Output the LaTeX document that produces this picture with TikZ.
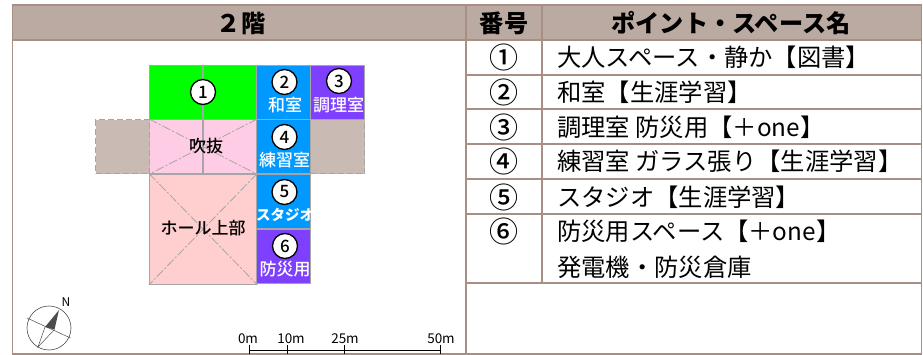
\documentclass[tikz,border=0pt]{standalone}
\usepackage{fontspec}
\setmainfont{Noto Sans CJK JP}
\newfontfamily\medfont{Noto Sans CJK JP Medium}
\usepackage{tikz}
\definecolor{headfill}{HTML}{BBAAA2}
\definecolor{tableline}{HTML}{A78F85}
\definecolor{wallgray}{HTML}{A6A6A6}
\definecolor{voidgray}{HTML}{C9BAB3}
\definecolor{roomgreen}{HTML}{00FF00}
\definecolor{roomblue}{HTML}{0099FF}
\definecolor{roompurple}{HTML}{7F3FFF}
\definecolor{voidpink}{HTML}{FFCCE5}
\definecolor{hallpink}{HTML}{FFCFCF}
\tikzset{
  room/.style={draw=wallgray, line width=1.3pt, inner sep=0pt, anchor=north west},
  numcircle/.style={circle, draw=black, line width=1.3pt, fill=white, minimum size=25pt, inner sep=0pt,
    font=\fontsize{17}{17}\medfont},
  roomlabel/.style={text=white, inner sep=0pt, font=\fontsize{17}{17}\medfont},
  headtext/.style={inner sep=0pt, font=\fontsize{24.2}{25}\selectfont\bfseries},
  celltext/.style={inner sep=0pt, font=\fontsize{24.3}{25}\selectfont},
  numtext/.style={inner sep=0pt, font=\fontsize{29}{29}\medfont},
  rowtext/.style={celltext, anchor=west},
  scaletext/.style={inner sep=0pt, font=\fontsize{13.5}{14}\selectfont},
  crossline/.style={draw=wallgray, line width=0.8pt, dash pattern=on 9pt off 2pt on 2pt off 2pt}
}
\begin{document}
\begin{tikzpicture}[x=1pt, y=-1pt]

  \useasboundingbox (0,0) rectangle (923,355);

  % Header band of the table
  \fill[headfill] (12.5,5) rectangle (921.5,40);

  % Rules of the table
  \draw[tableline, line width=1.3pt] (12.5,5) rectangle (921.5,354);
  \draw[tableline, line width=1.3pt] (12.5,40) -- (921.5,40);
  \draw[tableline, line width=1.3pt] (466,5) -- (466,354);
  \draw[tableline, line width=1.3pt] (542,5) -- (542,283);
  \draw[tableline, line width=1.3pt] (466,75) -- (921.5,75);
  \draw[tableline, line width=1.3pt] (466,109) -- (921.5,109);
  \draw[tableline, line width=1.3pt] (466,144) -- (921.5,144);
  \draw[tableline, line width=1.3pt] (466,179) -- (921.5,179);
  \draw[tableline, line width=1.3pt] (466,214) -- (921.5,214);
  \draw[tableline, line width=1.3pt] (466,283) -- (921.5,283);

  % Header texts
  \node[headtext] (floorhead) at (241,23) {２階};
  \node[headtext] (numhead) at (504,23) {番号};
  \node[headtext] (namehead) at (731,23) {ポイント・スペース名};

  % Rows of the table
  \node[numtext] (num1) at (504,57) {①};
  \node[numtext] (num2) at (504,92) {②};
  \node[numtext] (num3) at (504,127) {③};
  \node[numtext] (num4) at (504,161) {④};
  \node[numtext] (num5) at (504,197) {⑤};
  \node[numtext] (num6) at (504,231) {⑥};
  \node[rowtext] (name1) at (557,57) {大人スペース・静か【図書】};
  \node[rowtext] (name2) at (557,92) {和室【生涯学習】};
  \node[rowtext] (name3) at (557,127) {調理室 防災用【＋one】};
  \node[rowtext] (name4) at (557,161) {練習室 ガラス張り【生涯学習】};
  \node[rowtext] (name5) at (557,197) {スタジオ【生涯学習】};
  \node[rowtext] (name6) at (557,231) {防災用スペース【＋one】};
  \node[rowtext] (name6b) at (557,267) {発電機・防災倉庫};

  % Floor plan, the rooms
  \node[room, fill=roomgreen, minimum width=107pt, minimum height=54pt] (green) at (149,65) {};
  \node[room, fill=roomblue, minimum width=54pt, minimum height=54pt] (washitsu) at (256,65) {};
  \node[room, fill=roompurple, minimum width=54pt, minimum height=54pt] (kitchen) at (310,65) {};
  \node[room, fill=voidpink, minimum width=107pt, minimum height=54pt] (fukinuke) at (149,119) {};
  \node[room, fill=roomblue, minimum width=54pt, minimum height=54pt] (practice) at (256,119) {};
  \node[room, fill=hallpink, minimum width=107pt, minimum height=110pt] (hall) at (149,173.5) {};
  \node[room, fill=roomblue, minimum width=54pt, minimum height=55pt] (studio) at (256,173.5) {};
  \node[room, fill=roompurple, minimum width=54pt, minimum height=54.5pt] (bousai) at (256,228.5) {};

  % Dashed gray parts beside the void
  \node[room, dash pattern=on 6pt off 3pt, fill=voidgray, minimum width=54pt, minimum height=54pt] (sideleft) at (95,119) {};
  \node[room, dash pattern=on 6pt off 3pt, fill=voidgray, minimum width=54pt, minimum height=54pt] (sideright) at (310,119) {};

  % Crosses over the void and the hall
  \draw[crossline] (fukinuke.north west) -- (fukinuke.south east);
  \draw[crossline] (fukinuke.north east) -- (fukinuke.south west);
  \draw[crossline] (hall.north west) -- (hall.south east);
  \draw[crossline] (hall.north east) -- (hall.south west);

  % Wall through the middle of the upper rooms
  \draw[wallgray, line width=1.4pt] (green.north) -- (fukinuke.south);

  % Room numbers and names
  \node[numcircle] (c1) at (203,92) {1};
  \node[numcircle] (c2) at (284.5,82) {2};
  \node[numcircle] (c3) at (339,81) {3};
  \node[numcircle] (c4) at (284.5,137) {4};
  \node[numcircle] (c5) at (284.5,192) {5};
  \node[numcircle] (c6) at (285,246) {6};
  \node[roomlabel] at (285,105.5) {和室};
  \node[roomlabel] at (338.5,105.5) {調理室};
  \node[roomlabel] at (284.5,160) {練習室};
  \node[roomlabel, font=\fontsize{14.5}{15}\selectfont\bfseries] at (285,215) {スタジオ};
  \node[roomlabel] at (285,269.5) {防災用};
  \node[inner sep=0pt, font=\fontsize{17}{17}\medfont] at (206,146) {吹抜};
  \node[inner sep=0pt, font=\fontsize{17}{17}\medfont] at (203,228) {ホール上部};

  % Compass
  \coordinate (north) at (59,310);
  \coordinate (south) at (38,347);
  \coordinate (hub) at (49,328);
  \draw[black!70, line width=0.6pt] (hub) circle (22);
  \draw[black!70, line width=0.5pt] (27,318) -- (70.5,338);
  \fill[black!70] (north) -- (45,327) -- (54.5,329.5) -- cycle;
  \draw[black!70, line width=0.5pt] (45,327) -- (south) -- (54.5,329.5);
  \node[inner sep=0pt, font=\fontsize{12}{12}\selectfont] (nlabel) at (66,302) {N};

  % Scale bar
  \coordinate (s0) at (249,350);
  \coordinate (s10) at (287,350);
  \coordinate (s25) at (344,350);
  \coordinate (s50) at (440,350);
  \draw[black, line width=0.7pt] (s0) -- (s50);
  \draw[black, line width=0.7pt] (249,345) -- (249,354);
  \draw[black, line width=0.7pt] (287,345) -- (287,354);
  \draw[black, line width=0.7pt] (344,345) -- (344,354);
  \draw[black, line width=0.7pt] (440,345) -- (440,354);
  \node[scaletext] (t0) at (248,339) {0m};
  \node[scaletext] (t10) at (291,339) {10m};
  \node[scaletext] (t25) at (345,339) {25m};
  \node[scaletext] (t50) at (441,339) {50m};

\end{tikzpicture}
\end{document}
